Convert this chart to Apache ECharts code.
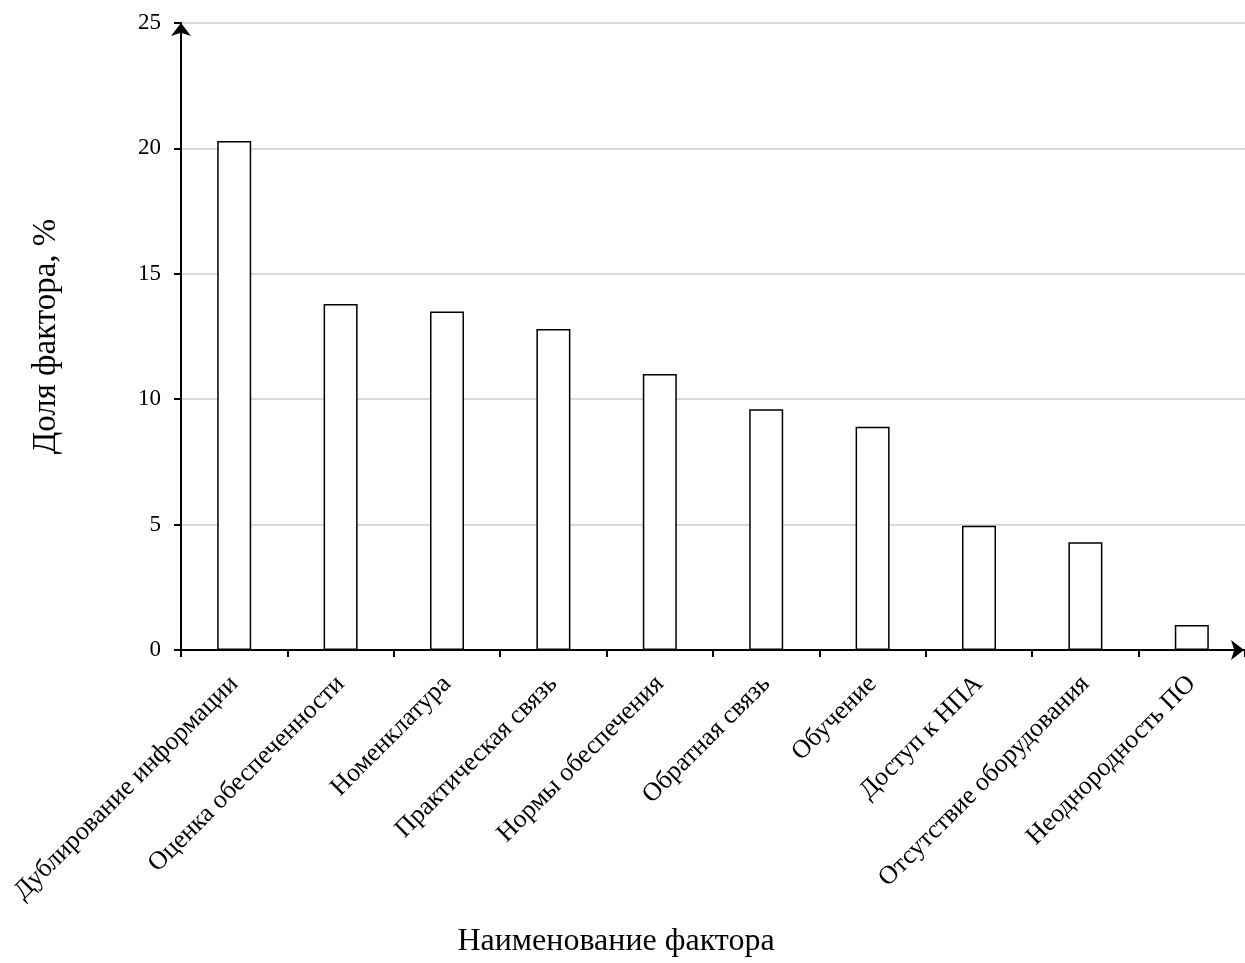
<!DOCTYPE html>
<html><head><meta charset="utf-8">
<script src="https://cdn.jsdelivr.net/npm/echarts@6/dist/echarts.min.js"></script>
<style>html,body{margin:0;padding:0;background:#fff;overflow:hidden}#c{width:1245px;height:963px}</style>
</head><body><div id="c"></div>
<script>
const categories = ['Дублирование информации','Оценка обеспеченности','Номенклатура','Практическая связь','Нормы обеспечения','Обратная связь','Обучение','Доступ к НПА','Отсутствие оборудования','Неоднородность ПО'];
const values = [20.3, 13.8, 13.5, 12.8, 11.0, 9.6, 8.9, 4.95, 4.3, 1.0];
const xName = 'Наименование фактора';
const yName = 'Доля фактора, %';
const FONT = '"Liberation Serif","Times New Roman",serif';
const chart = echarts.init(document.getElementById('c'), null, {renderer:'canvas'});
chart.setOption({
  animation:false,
  backgroundColor:'#fff',
  textStyle:{fontFamily:FONT},
  grid:{left:181, top:23, height:635, width:1069, containLabel:false},
  xAxis:{
    type:'category', data:categories,
    name:xName, nameLocation:'middle', nameGap:276,
    nameTextStyle:{fontFamily:FONT, fontSize:32, color:'#000', padding:[0,194,0,0]},
    axisLine:{lineStyle:{color:'#000', width:2}, symbol:['none','arrow'], symbolSize:[15,13], symbolOffset:[0,-1]},
    axisTick:{show:true, length:7, lineStyle:{color:'#000', width:2}},
    axisLabel:{rotate:45, margin:30, fontFamily:FONT, fontSize:26, color:'#000', interval:0}
  },
  yAxis:{
    type:'value', min:0, max:25, interval:5,
    name:yName, nameLocation:'middle', nameGap:118,
    nameTextStyle:{fontFamily:FONT, fontSize:33, color:'#000'},
    axisLine:{show:true, lineStyle:{color:'#000', width:2}, symbol:['none','arrow'], symbolSize:[15,13]},
    axisTick:{show:true, length:7, lineStyle:{color:'#000', width:2}},
    axisLabel:{margin:20, fontFamily:FONT, fontSize:23, color:'#000'},
    splitLine:{show:true, lineStyle:{color:'#d9d9d9', width:2}}
  },
  series:[{
    type:'bar', data:values, barWidth:34,
    itemStyle:{color:'#fff', borderColor:'#000', borderWidth:1.5}
  }]
});
</script></body></html>
